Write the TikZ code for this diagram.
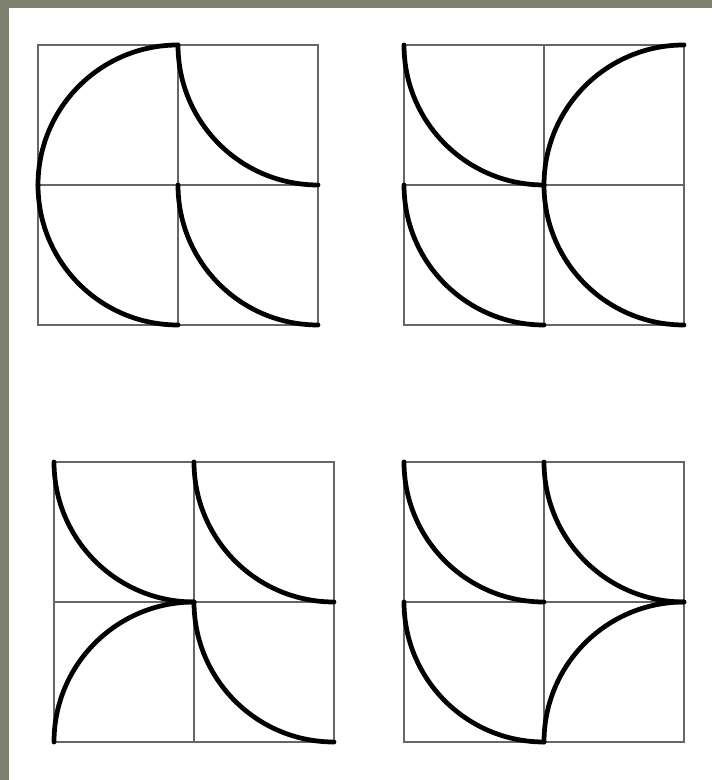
\documentclass[tikz,border=0pt]{standalone}
\usepackage{tikz}
\definecolor{Frame}{HTML}{80816E}
\definecolor{GridGray}{HTML}{666666}

\begin{document}
\begin{tikzpicture}[
  x=0.02cm,y=0.02cm,
  grid/.style={draw=GridGray,line width=0.9pt},
  curve/.style={draw=black,line width=2.7pt,line cap=round}
]
\fill[Frame] (0,0) rectangle (712,780);
\fill[white] (9,0) rectangle (712,772);
\useasboundingbox (0,0) rectangle (712,780);
\coordinate (p1) at (38,735);
\coordinate (p2) at (404,735);
\coordinate (p3) at (54,318);
\coordinate (p4) at (404,318);
% grids
\foreach \p in {p1,p2,p3,p4}{
  \begin{scope}[shift={(\p)}]
    \draw[grid] (0,0) rectangle (280,-280);
    \draw[grid] (140,0) -- (140,-280);
    \draw[grid] (0,-140) -- (280,-140);
  \end{scope}
}
% top left
\begin{scope}[shift={(p1)}]
  \draw[curve] (140,0) arc[start angle=90,end angle=180,radius=140];
  \draw[curve] (0,-140) arc[start angle=180,end angle=270,radius=140];
  \draw[curve] (140,0) arc[start angle=180,end angle=270,radius=140];
  \draw[curve] (140,-140) arc[start angle=180,end angle=270,radius=140];
\end{scope}
% top right
\begin{scope}[shift={(p2)}]
  \draw[curve] (0,0) arc[start angle=180,end angle=270,radius=140];
  \draw[curve] (0,-140) arc[start angle=180,end angle=270,radius=140];
  \draw[curve] (280,0) arc[start angle=90,end angle=180,radius=140];
  \draw[curve] (140,-140) arc[start angle=180,end angle=270,radius=140];
\end{scope}
% bottom left
\begin{scope}[shift={(p3)}]
  \draw[curve] (0,0) arc[start angle=180,end angle=270,radius=140];
  \draw[curve] (140,0) arc[start angle=180,end angle=270,radius=140];
  \draw[curve] (0,-280) arc[start angle=180,end angle=90,radius=140];
  \draw[curve] (140,-140) arc[start angle=180,end angle=270,radius=140];
\end{scope}
% bottom right
\begin{scope}[shift={(p4)}]
  \draw[curve] (0,0) arc[start angle=180,end angle=270,radius=140];
  \draw[curve] (140,0) arc[start angle=180,end angle=270,radius=140];
  \draw[curve] (0,-140) arc[start angle=180,end angle=270,radius=140];
  \draw[curve] (140,-280) arc[start angle=180,end angle=90,radius=140];
\end{scope}
\end{tikzpicture}
\end{document}
